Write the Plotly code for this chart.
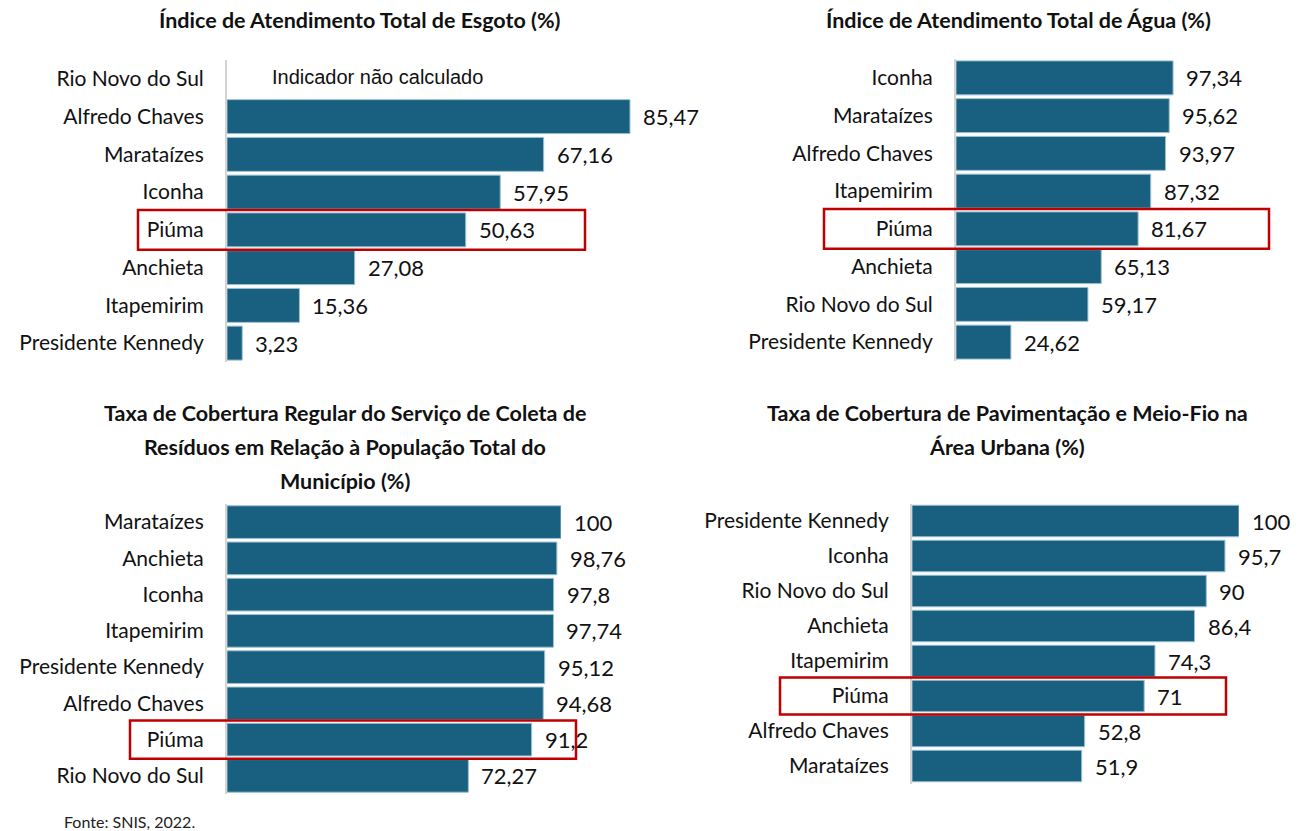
import plotly.graph_objects as go

W, H = 1307, 831

# ---- data ----
esgoto_cats = ["Rio Novo do Sul", "Alfredo Chaves", "Marataízes", "Iconha", "Piúma",
               "Anchieta", "Itapemirim", "Presidente Kennedy"]
esgoto_vals = [None, 85.47, 67.16, 57.95, 50.63, 27.08, 15.36, 3.23]

agua_cats = ["Iconha", "Marataízes", "Alfredo Chaves", "Itapemirim", "Piúma",
             "Anchieta", "Rio Novo do Sul", "Presidente Kennedy"]
agua_vals = [97.34, 95.62, 93.97, 87.32, 81.67, 65.13, 59.17, 24.62]

residuos_cats = ["Marataízes", "Anchieta", "Iconha", "Itapemirim", "Presidente Kennedy",
                 "Alfredo Chaves", "Piúma", "Rio Novo do Sul"]
residuos_vals = [100, 98.76, 97.8, 97.74, 95.12, 94.68, 91.2, 72.27]

pav_cats = ["Presidente Kennedy", "Iconha", "Rio Novo do Sul", "Anchieta", "Itapemirim",
            "Piúma", "Alfredo Chaves", "Marataízes"]
pav_vals = [100, 95.7, 90, 86.4, 74.3, 71, 52.8, 51.9]

titles = [
    ["Índice de Atendimento Total de Esgoto (%)"],
    ["Índice de Atendimento Total de Água (%)"],
    ["Taxa de Cobertura Regular do Serviço de Coleta de",
     "Resíduos em Relação à População Total do",
     "Município (%)"],
    ["Taxa de Cobertura de Pavimentação e Meio-Fio na",
     "Área Urbana (%)"],
]
highlight = "Piúma"
missing_text = "Indicador não calculado"
source_text = "Fonte: SNIS, 2022."

# ---- layout geometry (pixels) ----
panels = [
    dict(cats=esgoto_cats, vals=esgoto_vals, ax=227, w100=471.5, yt=60, yb=362,
         tx=360, ty=20, bx0=138, bx1=585),
    dict(cats=agua_cats, vals=agua_vals, ax=956, w100=223, yt=59, yb=361,
         tx=1018, ty=20, bx0=824, bx1=1269),
    dict(cats=residuos_cats, vals=residuos_vals, ax=227, w100=334, yt=504, yb=794,
         tx=345, ty=413, bx0=130, bx1=576),
    dict(cats=pav_cats, vals=pav_vals, ax=912, w100=327, yt=503.5, yb=783.5,
         tx=1007, ty=413, bx0=780, bx1=1226),
]
TITLE_LINE = 34

BAR = "#185f80"
FONT = "Lato"

def fmt(v):
    if v is None:
        return ""
    if float(v).is_integer():
        return str(int(v))
    return ("%g" % v).replace(".", ",")

fig = go.Figure()
annotations = []
shapes = []

for i, p in enumerate(panels):
    n = i + 1
    xa = "x" if n == 1 else f"x{n}"
    ya = "y" if n == 1 else f"y{n}"
    fig.add_trace(go.Bar(
        x=p["vals"], y=p["cats"], orientation="h", xaxis=xa, yaxis=ya,
        marker=dict(color=BAR, line=dict(color="#9cc0d2", width=1)),
        width=0.9, hoverinfo="x+y", showlegend=False,
    ))
    xd = [p["ax"] / W, (p["ax"] + p["w100"]) / W]
    yd = [1 - p["yb"] / H, 1 - p["yt"] / H]
    xkey = "xaxis" if n == 1 else f"xaxis{n}"
    ykey = "yaxis" if n == 1 else f"yaxis{n}"
    fig.update_layout(**{
        xkey: dict(domain=xd, range=[0, 100], visible=False, anchor=ya, fixedrange=True),
        ykey: dict(domain=yd, type="category", categoryorder="array",
                   categoryarray=p["cats"], range=[len(p["cats"]) - 0.5, -0.5],
                   anchor=xa, showline=True, linecolor="#d4d4d4", linewidth=2,
                   showgrid=False, zeroline=False, ticks="", ticklabelstandoff=17,
                   tickfont=dict(family=FONT, size=21, color="#111111"), fixedrange=True),
    })
    # value labels
    for c, v in zip(p["cats"], p["vals"]):
        if v is None:
            annotations.append(dict(x=(270 - p["ax"]) / p["w100"] * 100, y=c, xref=xa, yref=ya,
                                    text=missing_text, showarrow=False, xanchor="left",
                                    yshift=2,
                                    font=dict(family="Liberation Sans", size=20, color="#111111")))
            continue
        annotations.append(dict(x=v, y=c, xref=xa, yref=ya, text=fmt(v), showarrow=False,
                                xanchor="left", xshift=11, yshift=0,
                                font=dict(family=FONT, size=22, color="#111111")))
    # title lines
    for j, line in enumerate(titles[i]):
        annotations.append(dict(x=p["tx"] / W, y=1 - (p["ty"] + j * TITLE_LINE) / H,
                                xref="paper", yref="paper",
                                text="<b>" + line + "</b>", showarrow=False,
                                xanchor="center", yanchor="middle", align="center",
                                font=dict(family=FONT, size=21.5, color="#111111")))
    # highlight box around Piúma row
    k = p["cats"].index(highlight)
    pitch = (p["yb"] - p["yt"]) / len(p["cats"])
    r0 = p["yt"] + k * pitch - 1
    r1 = p["yt"] + (k + 1) * pitch + 1
    shapes.append(dict(type="rect", xref="paper", yref="paper",
                       x0=p["bx0"] / W, x1=p["bx1"] / W, y0=1 - r1 / H, y1=1 - r0 / H,
                       line=dict(color="#c00000", width=2.5), fillcolor="rgba(0,0,0,0)",
                       layer="above"))

annotations.append(dict(x=62 / W, y=1 - 821 / H, xref="paper", yref="paper", text=source_text,
                        showarrow=False, xanchor="left", yanchor="middle",
                        font=dict(family=FONT, size=16, color="#222222")))

fig.update_layout(
    width=W, height=H, margin=dict(l=0, r=0, t=0, b=0),
    paper_bgcolor="white", plot_bgcolor="white",
    annotations=annotations, shapes=shapes, bargap=0.1,
    font=dict(family=FONT),
)

fig.write_html("out.html", config={"displayModeBar": False},
               post_script="document.body.style.margin='0';document.body.style.overflow='hidden';")
